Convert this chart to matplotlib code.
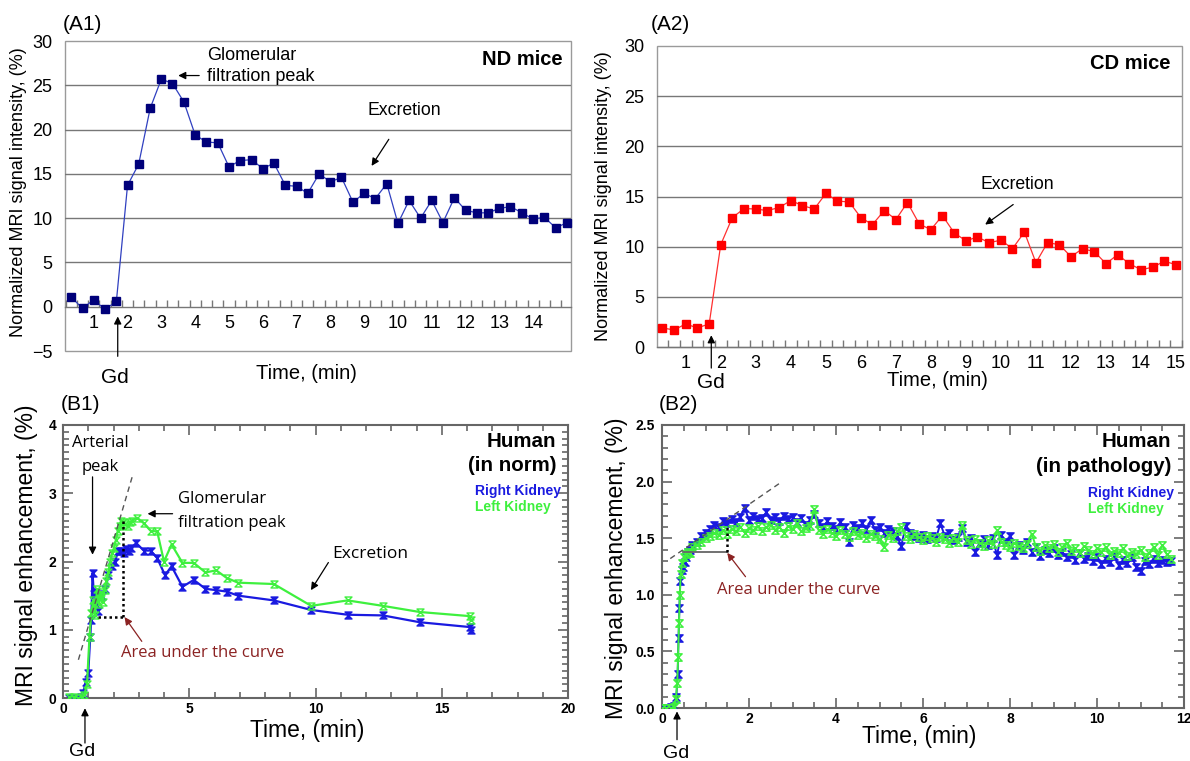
import matplotlib
matplotlib.use('Agg')
import matplotlib.pyplot as plt
from matplotlib.path import Path
from matplotlib.patches import Rectangle

plt.rcParams['font.family'] = ['Liberation Sans', 'DejaVu Sans']

# ---------------- data ----------------
# (A1) ND mice and (A2) CD mice: time (min) and normalized signal (%)
mice_time = [0.33, 0.67, 1.0, 1.33, 1.67, 2.0, 2.33, 2.67, 3.0, 3.33, 3.67, 4.0, 4.33, 4.67, 5.0,
             5.33, 5.67, 6.0, 6.33, 6.67, 7.0, 7.33, 7.67, 8.0, 8.33, 8.67, 9.0, 9.33, 9.67, 10.0,
             10.33, 10.67, 11.0, 11.33, 11.67, 12.0, 12.33, 12.67, 13.0, 13.33, 13.67, 14.0, 14.33,
             14.67, 15.0]
nd_signal = [1.1, -0.2, 0.8, -0.3, 0.6, 13.7, 16.1, 22.4, 25.7, 25.2, 23.1, 19.4, 18.6, 18.5, 15.8,
             16.5, 16.6, 15.6, 16.2, 13.7, 13.6, 12.8, 15.0, 14.1, 14.6, 11.8, 12.8, 12.2, 13.9, 9.4,
             12.0, 10.0, 12.0, 9.5, 12.3, 10.9, 10.6, 10.6, 11.1, 11.3, 10.6, 9.9, 10.1, 8.9, 9.5]
cd_signal = [1.9, 1.7, 2.3, 1.9, 2.3, 10.2, 12.9, 13.8, 13.75, 13.6, 13.9, 14.6, 14.1, 13.75, 15.3,
             14.55, 14.45, 12.9, 12.2, 13.6, 12.7, 14.4, 12.25, 11.7, 13.1, 11.35, 10.6, 10.95, 10.4, 10.65,
             9.8, 11.45, 8.4, 10.4, 10.2, 9.0, 9.8, 9.5, 8.3, 9.2, 8.3, 7.7, 7.95, 8.55, 8.2]
mice_xticks = list(range(1, 16))

# (B1) Human, in norm
b1_right_t = [0.25, 0.4, 0.55, 0.7, 0.8, 0.9, 1.0, 1.08, 1.12, 1.17, 1.22, 1.3, 1.38, 1.45, 1.55, 1.68,
              1.8, 1.95, 2.06, 2.18, 2.3, 2.42, 2.5, 2.6, 2.7, 2.9, 3.2, 3.47, 3.73, 4.04, 4.3, 4.73,
              5.18, 5.64, 6.07, 6.48, 6.93, 8.35, 9.83, 11.27, 12.67, 14.13, 16.1, 16.15]
b1_right_v = [0.0, 0.0, -0.01, 0.02, 0.08, 0.24, 0.37, 0.9, 1.15, 1.83, 1.53, 1.55, 1.27, 1.53, 1.5, 1.6,
              1.8, 1.93, 2.0, 2.15, 2.16, 2.13, 2.18, 2.15, 2.2, 2.27, 2.16, 2.16, 2.05, 1.8, 1.93, 1.63,
              1.73, 1.6, 1.58, 1.56, 1.5, 1.43, 1.29, 1.22, 1.21, 1.11, 1.04, 0.99]
b1_left_t = [0.25, 0.45, 0.6, 0.75, 0.85, 0.95, 1.05, 1.12, 1.2, 1.27, 1.35, 1.42, 1.5, 1.57, 1.65, 1.72,
             1.8, 1.87, 1.95, 2.02, 2.1, 2.17, 2.24, 2.3, 2.36, 2.45, 2.56, 2.65, 2.74, 2.94, 3.2, 3.47,
             3.73, 4.0, 4.3, 4.73, 5.18, 5.64, 6.07, 6.48, 6.93, 8.35, 9.83, 11.27, 12.67, 14.13, 16.1, 16.15]
b1_left_v = [0.02, 0.02, 0.0, 0.01, 0.05, 0.2, 0.9, 1.25, 1.43, 1.22, 1.6, 1.38, 1.55, 1.41, 1.58, 1.72,
             1.85, 2.0, 2.12, 2.2, 2.32, 2.45, 2.52, 2.6, 2.58, 2.55, 2.52, 2.58, 2.6, 2.64, 2.56, 2.45,
             2.44, 2.0, 2.25, 1.98, 1.98, 1.84, 1.87, 1.76, 1.69, 1.67, 1.35, 1.43, 1.35, 1.26, 1.2, 1.14]

# (B2) Human, in pathology
b2_right_t = [0.0, 0.1, 0.2, 0.28, 0.33, 0.36, 0.38, 0.4, 0.42, 0.45, 0.48, 0.52, 0.56, 0.6, 0.65, 0.7,
              0.8, 0.9, 1.0, 1.1, 1.2, 1.3, 1.4, 1.5, 1.6, 1.7, 1.8, 1.9, 2.0, 2.1, 2.2, 2.3, 2.4, 2.5,
              2.6, 2.7, 2.8, 2.9, 3.0, 3.1, 3.2, 3.3, 3.4, 3.5, 3.6, 3.7, 3.8, 3.9, 4.0, 4.1, 4.2, 4.3,
              4.4, 4.5, 4.6, 4.7, 4.8, 4.9, 5.0, 5.1, 5.2, 5.3, 5.4, 5.5, 5.6, 5.7, 5.8, 5.9, 6.0, 6.1,
              6.2, 6.3, 6.4, 6.5, 6.6, 6.7, 6.8, 6.9, 7.0, 7.1, 7.2, 7.3, 7.4, 7.5, 7.6, 7.7, 7.8, 7.9,
              8.0, 8.1, 8.2, 8.3, 8.4, 8.5, 8.6, 8.7, 8.8, 8.9, 9.0, 9.1, 9.2, 9.3, 9.4, 9.5, 9.6, 9.7,
              9.8, 9.9, 10.0, 10.1, 10.2, 10.3, 10.4, 10.5, 10.6, 10.7, 10.8, 10.9, 11.0, 11.1, 11.2,
              11.3, 11.4, 11.5, 11.6, 11.7]
b2_right_v = [0.0, 0.0, 0.01, 0.02, 0.10, 0.30, 0.62, 0.88, 1.12, 1.22, 1.25, 1.29, 1.33, 1.38, 1.40, 1.44,
              1.47, 1.52, 1.55, 1.58, 1.62, 1.60, 1.65, 1.63, 1.67, 1.64, 1.69, 1.77, 1.66, 1.70, 1.67, 1.68,
              1.73, 1.66, 1.69, 1.65, 1.70, 1.67, 1.69, 1.64, 1.68, 1.62, 1.66, 1.71, 1.63, 1.60, 1.65, 1.61,
              1.58, 1.64, 1.60, 1.47, 1.62, 1.59, 1.63, 1.58, 1.66, 1.57, 1.60, 1.55, 1.58, 1.56, 1.52, 1.43,
              1.61, 1.55, 1.52, 1.50, 1.53, 1.49, 1.52, 1.50, 1.63, 1.52, 1.55, 1.48, 1.51, 1.59, 1.47, 1.50,
              1.38, 1.46, 1.49, 1.44, 1.50, 1.35, 1.53, 1.47, 1.52, 1.35, 1.44, 1.40, 1.47, 1.38, 1.42, 1.34,
              1.40, 1.37, 1.41, 1.35, 1.38, 1.33, 1.36, 1.31, 1.37, 1.32, 1.34, 1.30, 1.33, 1.27, 1.32, 1.29,
              1.34, 1.26, 1.31, 1.28, 1.33, 1.25, 1.21, 1.30, 1.27, 1.32, 1.28, 1.31, 1.29, 1.30]
b2_left_t = [0.0, 0.1, 0.2, 0.28, 0.32, 0.35, 0.37, 0.39, 0.41, 0.43, 0.46, 0.5, 0.55, 0.6, 0.65, 0.7,
             0.8, 0.9, 1.0, 1.1, 1.2, 1.3, 1.4, 1.5, 1.6, 1.7, 1.8, 1.9, 2.0, 2.1, 2.2, 2.3, 2.4, 2.5,
             2.6, 2.7, 2.8, 2.9, 3.0, 3.1, 3.2, 3.3, 3.4, 3.5, 3.6, 3.7, 3.8, 3.9, 4.0, 4.1, 4.2, 4.3,
             4.4, 4.5, 4.6, 4.7, 4.8, 4.9, 5.0, 5.1, 5.2, 5.3, 5.4, 5.5, 5.6, 5.7, 5.8, 5.9, 6.0, 6.1,
             6.2, 6.3, 6.4, 6.5, 6.6, 6.7, 6.8, 6.9, 7.0, 7.1, 7.2, 7.3, 7.4, 7.5, 7.6, 7.7, 7.8, 7.9,
             8.0, 8.1, 8.2, 8.3, 8.4, 8.5, 8.6, 8.7, 8.8, 8.9, 9.0, 9.1, 9.2, 9.3, 9.4, 9.5, 9.6, 9.7,
             9.8, 9.9, 10.0, 10.1, 10.2, 10.3, 10.4, 10.5, 10.6, 10.7, 10.8, 10.9, 11.0, 11.1, 11.2,
             11.3, 11.4, 11.5, 11.6, 11.7]
b2_left_v = [0.0, 0.0, 0.0, 0.01, 0.08, 0.22, 0.45, 0.75, 1.00, 1.18, 1.28, 1.33, 1.36, 1.38, 1.37, 1.42,
             1.44, 1.47, 1.50, 1.52, 1.55, 1.53, 1.57, 1.54, 1.58, 1.56, 1.60, 1.55, 1.59, 1.57, 1.61, 1.56,
             1.60, 1.62, 1.57, 1.60, 1.55, 1.61, 1.58, 1.63, 1.56, 1.59, 1.61, 1.76, 1.57, 1.54, 1.58, 1.55,
             1.52, 1.57, 1.54, 1.51, 1.56, 1.53, 1.55, 1.50, 1.54, 1.52, 1.49, 1.42, 1.53, 1.50, 1.56, 1.60,
             1.52, 1.49, 1.54, 1.51, 1.48, 1.52, 1.50, 1.47, 1.51, 1.49, 1.46, 1.50, 1.47, 1.62, 1.48, 1.45,
             1.49, 1.46, 1.43, 1.48, 1.45, 1.57, 1.47, 1.44, 1.42, 1.46, 1.43, 1.41, 1.45, 1.54, 1.42, 1.39,
             1.44, 1.41, 1.45, 1.38, 1.42, 1.46, 1.39, 1.41, 1.37, 1.43, 1.40, 1.36, 1.41, 1.38, 1.42, 1.35,
             1.39, 1.37, 1.41, 1.34, 1.38, 1.36, 1.40, 1.33, 1.37, 1.42, 1.35, 1.44, 1.36, 1.32]

# ---------------- figure ----------------
W, H = 1190, 761
fig = plt.figure(figsize=(W / 100, H / 100), dpi=100)


def ax_px(l, r, t, b):
    return fig.add_axes([l / W, 1 - b / H, (r - l) / W, (b - t) / H])


def ftext(x, y, s, **kw):
    fig.text(x / W, 1 - y / H, s, **kw)


def arrow(ax, head, tail, color='black', lw=0.9, ms=11):
    ax.annotate('', xy=head, xytext=tail, annotation_clip=False,
                arrowprops=dict(arrowstyle='-|>', color=color, lw=lw,
                                mutation_scale=ms, shrinkA=0, shrinkB=0))


def mice_panel(ax, values, line_c, mark_c, ymin, xlim, ntick):
    ax.set_xlim(*xlim)
    ax.set_ylim(ymin, 30)
    for y in range(5, 30, 5):
        ax.axhline(y, color='#777777', lw=1.0, zorder=1)
    for s in ['left', 'right', 'top']:
        ax.spines[s].set_visible(False)
    ax.add_patch(Rectangle((0, 0), 1, 1, transform=ax.transAxes, fill=False,
                           edgecolor='#9a9a9a', lw=1.0, clip_on=False, zorder=0))
    ax.spines['bottom'].set_position(('data', 0))
    ax.spines['bottom'].set_color('#777777')
    ax.spines['bottom'].set_linewidth(1.0)
    ax.plot(mice_time, values, color=line_c, lw=0.9, marker='s', ms=5.2,
            mfc=mark_c, mec=mark_c, zorder=3, clip_on=False)
    ax.set_xticks(mice_xticks[:ntick])
    ax.set_xticks([i / 3 + 1 / 6 for i in range(46) if xlim[0] < i / 3 + 1 / 6 < xlim[1]], minor=True)
    ax.tick_params(axis='x', which='major', length=0, labelsize=13, pad=6)
    ax.tick_params(axis='x', which='minor', direction='in', length=5, color='#777777', width=1)
    ax.set_yticks(range(ymin, 31, 5))
    ax.set_yticklabels([('\u22125' if v < 0 else str(v)) for v in range(ymin, 31, 5)])
    ax.tick_params(axis='y', length=0, labelsize=13, pad=9)


# ---- A1 ----
axA1 = ax_px(65, 571, 41, 351)
mice_panel(axA1, nd_signal, '#3040c0', '#00007a', -5, (0.15, 15.12), 14)
axA1.text(14.87, 27.9, 'ND mice', ha='right', va='center', fontsize=14.5, fontweight='bold')
axA1.text(4.35, 28.4, 'Glomerular', ha='left', va='center', fontsize=13)
axA1.text(4.35, 26.0, 'filtration peak', ha='left', va='center', fontsize=13)
arrow(axA1, (3.5, 26.1), (4.12, 26.1))
axA1.text(10.18, 22.1, 'Excretion', ha='center', va='center', fontsize=12.7)
arrow(axA1, (9.22, 15.9), (9.73, 18.9))
arrow(axA1, (1.71, -1.1), (1.71, -5.6))
ftext(82, 25, '(A1)', ha='center', va='center', fontsize=15)
ftext(19, 192, 'Normalized MRI signal intensity, (%)', rotation=90, ha='center', va='center', fontsize=13)
ftext(306, 374, 'Time, (min)', ha='center', va='center', fontsize=14.5)
ftext(115, 377, 'Gd', ha='center', va='center', fontsize=15)

# ---- A2 ----
axA2 = ax_px(657, 1182, 46, 347)
mice_panel(axA2, cd_signal, '#ff3030', '#ff0000', 0, (0.18, 15.17), 15)
axA2.text(14.84, 28.3, 'CD mice', ha='right', va='center', fontsize=14.5, fontweight='bold')
axA2.text(10.48, 16.2, 'Excretion', ha='center', va='center', fontsize=12.7)
arrow(axA2, (9.55, 12.2), (10.35, 14.2))
arrow(axA2, (1.73, 1.17), (1.73, -2.1))
ftext(670, 24, '(A2)', ha='center', va='center', fontsize=15)
ftext(603, 196, 'Normalized MRI signal intensity, (%)', rotation=90, ha='center', va='center', fontsize=13)
ftext(937, 381, 'Time, (min)', ha='center', va='center', fontsize=14.5)
ftext(711, 383, 'Gd', ha='center', va='center', fontsize=15)

# ---------------- human panels ----------------
hourglass = Path([(-1, 1), (1, 1), (-1, -1), (1, -1), (-1, 1)],
                 [Path.MOVETO, Path.LINETO, Path.LINETO, Path.LINETO, Path.CLOSEPOLY])
BLUE = '#1a1ae0'
GREEN = '#3ef03e'
DARKRED = '#8b2222'
MYR = ['Open Sans', 'DejaVu Sans']


def human_frame(ax, xlim, ylim, xmaj, xmin, ymaj, ymin, yfmt):
    ax.set_xlim(*xlim)
    ax.set_ylim(*ylim)
    for s in ax.spines.values():
        s.set_color('#666666')
        s.set_linewidth(1.5)
    ax.set_xticks(xmaj)
    ax.set_xticks(xmin, minor=True)
    ax.set_yticks(ymaj)
    ax.set_yticks(ymin, minor=True)
    ax.set_yticklabels([yfmt.format(v) for v in ymaj])
    ax.set_xticklabels([str(v) for v in xmaj])
    ax.tick_params(which='both', direction='in', top=True, right=True, color='#666666', width=1.2)
    ax.tick_params(which='major', length=7)
    ax.tick_params(which='minor', length=4)
    ax.tick_params(axis='x', labelsize=10, pad=3)
    ax.tick_params(axis='y', labelsize=10, pad=5)
    for lab in ax.get_xticklabels() + ax.get_yticklabels():
        lab.set_fontweight('bold')


# ---- B1 ----
axB1 = ax_px(63, 568, 425, 698)
human_frame(axB1, (0, 20), (0, 4), [0, 5, 10, 15, 20], [i for i in range(21) if i % 5],
            [0, 1, 2, 3, 4], [i / 10 for i in range(41) if i % 10], '{:d}')
axB1.plot(b1_right_t, b1_right_v, color=BLUE, lw=1.6, marker=hourglass, ms=5, mew=1.0,
          mfc=BLUE, mec=BLUE, zorder=3)
axB1.plot(b1_left_t, b1_left_v, color=GREEN, lw=1.6, marker=hourglass, ms=5, mew=1.0,
          mfc='none', mec=GREEN, zorder=4)
axB1.plot([0.61, 2.74], [0.56, 3.24], ls=(0, (4, 3)), color='#555555', lw=1.0, zorder=5)
axB1.plot([2.39, 2.39], [1.19, 2.62], ls=(0, (1, 1.2)), color='black', lw=1.8, zorder=5)
axB1.plot([1.37, 2.39], [1.19, 1.19], ls=(0, (1, 1.2)), color='black', lw=1.8, zorder=5)
axB1.text(19.53, 3.76, 'Human', ha='right', va='center', fontsize=14.8, fontweight='bold')
axB1.text(19.53, 3.40, '(in norm)', ha='right', va='center', fontsize=14.8, fontweight='bold')
axB1.text(16.33, 3.03, 'Right Kidney', ha='left', va='center', fontsize=10, fontweight='bold',
          color=BLUE, family=['Liberation Sans Narrow', 'Liberation Sans'])
axB1.text(16.33, 2.80, 'Left Kidney', ha='left', va='center', fontsize=10, fontweight='bold',
          color=GREEN, family=['Liberation Sans Narrow', 'Liberation Sans'])
axB1.text(1.48, 3.73, 'Arterial', ha='center', va='center', fontsize=12, family=MYR)
axB1.text(1.48, 3.38, 'peak', ha='center', va='center', fontsize=12, family=MYR)
arrow(axB1, (1.17, 2.1), (1.17, 3.24))
axB1.text(4.57, 2.92, 'Glomerular', ha='left', va='center', fontsize=12, family=MYR)
axB1.text(4.57, 2.57, 'filtration peak', ha='left', va='center', fontsize=12, family=MYR)
arrow(axB1, (3.35, 2.70), (4.34, 2.70))
axB1.text(10.66, 2.11, 'Excretion', ha='left', va='center', fontsize=12.5, family=MYR)
arrow(axB1, (9.82, 1.58), (10.51, 1.985))
axB1.text(2.28, 0.66, 'Area under the curve', ha='left', va='center', fontsize=12,
          color=DARKRED, family=MYR)
arrow(axB1, (2.44, 1.185), (3.12, 0.83), color=DARKRED)
arrow(axB1, (0.87, -0.15), (0.87, -0.66))
ftext(80, 405, '(B1)', ha='center', va='center', fontsize=15)
ftext(27, 555, 'MRI signal enhancement, (%)', rotation=90, ha='center', va='center', fontsize=16.5)
ftext(307, 731, 'Time, (min)', ha='center', va='center', fontsize=16.5)
ftext(82, 751, 'Gd', ha='center', va='center', fontsize=14)

# ---- B2 ----
axB2 = ax_px(662, 1184, 425, 708)
human_frame(axB2, (0, 12), (0, 2.5), [0, 2, 4, 6, 8, 10, 12], [i / 2 for i in range(25) if i % 4],
            [0.0, 0.5, 1.0, 1.5, 2.0, 2.5], [i / 10 for i in range(26) if i % 5], '{:.1f}')
axB2.plot(b2_right_t, b2_right_v, color=BLUE, lw=1.4, marker=hourglass, ms=5.2, mew=1.0,
          mfc=BLUE, mec=BLUE, zorder=3)
axB2.plot(b2_left_t, b2_left_v, color=GREEN, lw=1.4, marker=hourglass, ms=5.2, mew=1.1,
          mfc='none', mec=GREEN, zorder=4)
axB2.plot([0.19, 2.76], [1.32, 2.0], ls=(0, (4, 3)), color='#555555', lw=1.0, zorder=5)
axB2.plot([0.48, 1.49], [1.38, 1.38], ls='-', color='#666666', lw=1.3, zorder=5)
axB2.plot([1.49, 1.49], [1.38, 1.62], ls=(0, (1, 1.2)), color='black', lw=1.8, zorder=5)
axB2.text(11.71, 2.35, 'Human', ha='right', va='center', fontsize=14.8, fontweight='bold')
axB2.text(11.71, 2.13, '(in pathology)', ha='right', va='center', fontsize=14.8, fontweight='bold')
axB2.text(9.79, 1.90, 'Right Kidney', ha='left', va='center', fontsize=10, fontweight='bold',
          color=BLUE, family=['Liberation Sans Narrow', 'Liberation Sans'])
axB2.text(9.79, 1.76, 'Left Kidney', ha='left', va='center', fontsize=10, fontweight='bold',
          color=GREEN, family=['Liberation Sans Narrow', 'Liberation Sans'])
axB2.text(1.26, 1.04, 'Area under the curve', ha='left', va='center', fontsize=12,
          color=DARKRED, family=MYR)
arrow(axB2, (1.50, 1.37), (1.92, 1.16), color=DARKRED)
arrow(axB2, (0.345, -0.03), (0.345, -0.28))
ftext(678, 405, '(B2)', ha='center', va='center', fontsize=15)
ftext(617, 568, 'MRI signal enhancement, (%)', rotation=90, ha='center', va='center', fontsize=16.5)
ftext(919, 736, 'Time, (min)', ha='center', va='center', fontsize=16.5)
ftext(676, 754, 'Gd', ha='center', va='center', fontsize=14)

fig.savefig('out.png', dpi=100)
